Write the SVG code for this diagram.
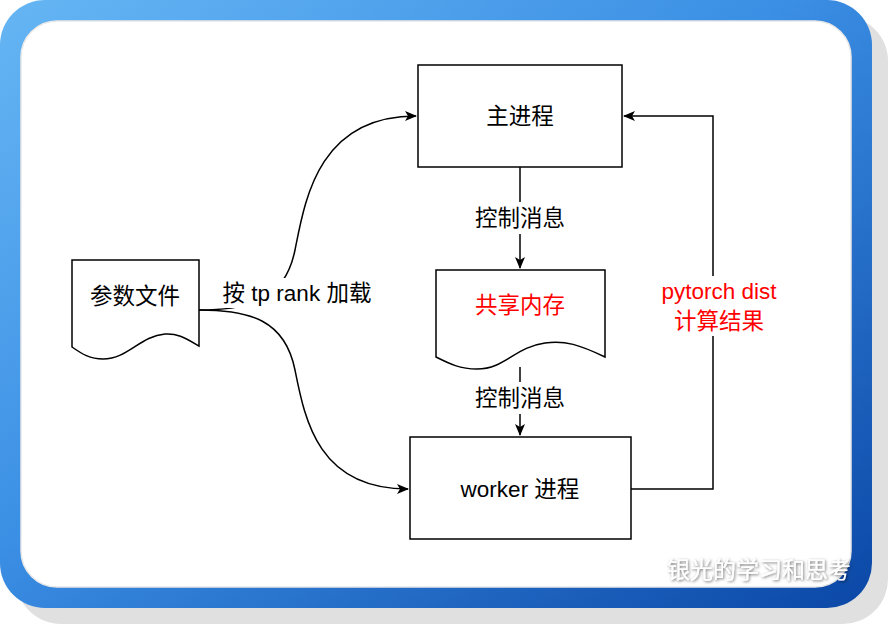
<svg xmlns="http://www.w3.org/2000/svg" width="888" height="624" viewBox="0 0 888 624">
<defs>
<linearGradient id="frameGrad" x1="0" y1="0" x2="1" y2="1">
<stop offset="0" stop-color="#66b6f4"/>
<stop offset="0.45" stop-color="#3b8fe4"/>
<stop offset="1" stop-color="#0b47a6"/>
</linearGradient>
<marker id="arr" viewBox="0 0 12 10" refX="11" refY="5" markerWidth="12" markerHeight="10" markerUnits="userSpaceOnUse" orient="auto">
<path d="M0,0 L12,5 L0,10 L3,5 Z" fill="#000"/>
</marker>
<filter id="ts" x="-10%" y="-30%" width="120%" height="160%">
<feDropShadow dx="1" dy="1" stdDeviation="1.5" flood-color="#000" flood-opacity="0.6"/>
</filter>
</defs>
<style>
.box{fill:#fff;stroke:#000;stroke-width:1.5}
.t{font-family:"Liberation Sans","Noto Sans CJK SC",sans-serif;font-size:22.5px;fill:#000;text-anchor:middle;dominant-baseline:central}
.red{fill:#ff0000}
.edge{fill:none;stroke:#000;stroke-width:1.5}
</style>
<rect x="16" y="16" width="872" height="608" rx="45" fill="#e0e0e0"/>
<rect x="0" y="0" width="872" height="608" rx="45" fill="url(#frameGrad)"/>
<rect x="21" y="21" width="830" height="566" rx="36" fill="#fff" stroke="#e8e8e8" stroke-width="1.5"/>

<g id="connectors">
<path class="edge" d="M199,310 C250,310 285,300 295,250 S318,116 416,116" marker-end="url(#arr)"/>
<path class="edge" d="M199,310 C250,310 285,320 295,370 S318,489 408,489" marker-end="url(#arr)"/>
<path class="edge" d="M520,167 V268" marker-end="url(#arr)"/>
<path class="edge" d="M520,367 V435" marker-end="url(#arr)"/>
<path class="edge" d="M631,489 H713 V116 H624" marker-end="url(#arr)"/>
<rect x="465" y="202" width="110" height="32" fill="#fff"/>
<text class="t" x="520" y="218">控制消息</text>
<rect x="465" y="382" width="110" height="32" fill="#fff"/>
<text class="t" x="520" y="398">控制消息</text>
<rect x="212" y="278" width="170" height="30" fill="#fff"/>
<text class="t" x="297" y="293">按 tp rank 加载</text>
<rect x="648" y="276" width="142" height="60" fill="#fff"/>
<text class="t red" x="719" y="291">pytorch dist</text>
<text class="t red" x="719" y="321">计算结果</text>
</g>

<g id="main">
<rect class="box" x="418" y="65" width="204" height="102"/>
<text class="t" x="520" y="116">主进程</text>
</g>
<g id="shm">
<path class="box" d="M436,270 H605 V357 C580,345 565,340 545,343 C515,347 505,369 477,369 C460,369 450,364 436,357 Z"/>
<text class="t red" x="520" y="305">共享内存</text>
</g>
<g id="worker">
<rect class="box" x="410" y="437" width="221" height="102"/>
<text class="t" x="520" y="489">worker 进程</text>
</g>
<g id="params">
<path class="box" d="M72,260 H199 V346 C185,338 177,333 165,334 C140,336 128,359 103,359 C90,359 82,354 72,347 Z"/>
<text class="t" x="135" y="296">参数文件</text>
</g>
<text x="851" y="578" font-family="Liberation Sans,'Noto Sans CJK SC',sans-serif" font-size="23" fill="#fff" text-anchor="end" filter="url(#ts)">银光的学习和思考</text>
</svg>
